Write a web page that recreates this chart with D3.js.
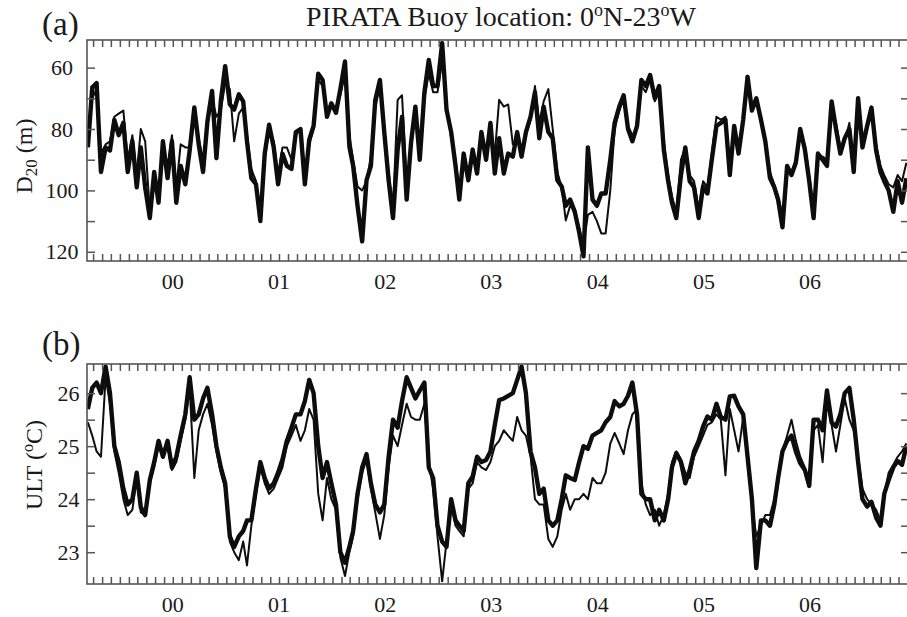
<!DOCTYPE html>
<html>
<head>
<meta charset="utf-8">
<script src="https://cdn.jsdelivr.net/npm/d3@7"></script>
<style>
  body { margin: 0; background: #fff; }
  svg { display: block; font-family: "Liberation Serif", "Times New Roman", serif; }
</style>
</head>
<body>
<div id="chart"></div>
<script>
// PIRATA buoy 0N-23W, D20 and ULT, semi-monthly samples

// D20 (m), thick and thin curves
const d20Thick = [
  86, 66.5, 65, 94, 86, 87, 77, 82, 78, 94,
  84, 99, 86, 99, 109, 94, 104, 84, 96, 84,
  104, 92, 98, 87, 73, 85, 94, 77.5, 67.6, 89.5,
  71, 59.5, 72, 73.7, 68.7, 71, 84, 96, 98, 110,
  88, 78.6, 86, 98, 88, 92, 93, 81, 80, 98,
  83.5, 79, 62, 64, 76, 71.6, 74.7, 67, 58, 85.7,
  92, 105, 116.6, 96.7, 92, 70.6, 64, 81, 96.7, 109,
  86.7, 76, 103, 84.5, 72.7, 90, 68, 57.5, 66, 66,
  52, 73.7, 81, 92, 103, 88, 96.7, 86.7, 94.5, 81,
  90, 78, 94.5, 83, 94.5, 88, 89, 81, 89, 81,
  76, 68, 83, 72.7, 81, 83, 96.7, 98.7, 105, 103,
  107, 113.6, 121.5, 86, 103, 105, 101, 101, 90, 78,
  72.7, 69, 80, 84, 79, 64, 66, 62.4, 70, 66,
  86.7, 97, 104, 109, 95, 86, 97, 99, 109, 98.7,
  101, 90, 79, 78, 77, 95, 79, 88, 77, 63,
  74, 70, 77, 84, 96, 99, 103, 112, 92, 95,
  91, 80, 86.7, 97, 109, 88, 90, 92, 71, 80,
  88, 83, 80, 94, 70, 86, 79, 73, 87, 94,
  97, 100, 107, 97, 104, 96
];
const d20Thin = [
  84, 70, 67, 88, 85, 84, 76, 75, 74, 90,
  82, 95, 80, 84, 107, 96, 101, 85, 93, 82,
  99, 85, 86, 86, 75, 83, 90, 79, 70, 76,
  74, 65, 67, 84, 75, 73, 82, 93, 97, 107,
  90, 80, 84, 95, 86, 86, 90, 82, 80, 95,
  85, 80, 64, 66, 75, 73, 73, 69, 62, 82,
  90, 98.7, 100, 97, 89, 73, 66, 80, 94, 106,
  70.5, 69, 98, 86, 74, 88, 70, 62, 68, 68,
  58, 72, 83, 90, 100, 90, 94, 88, 92, 83,
  88, 80, 88, 70.5, 72.7, 72, 85, 83, 87, 82,
  77, 66, 78, 71, 67, 80, 94, 99, 109.8, 105,
  106, 112, 118, 108, 107, 110, 114, 114, 100, 80,
  74, 70, 79, 82, 80, 66, 68, 64, 71, 68,
  84, 95, 102, 107, 90, 86, 95, 97, 106, 97,
  99, 88, 76, 77, 76, 92, 80, 86, 78, 65,
  72, 71, 76, 83, 94, 98, 102, 108, 94, 94,
  90, 82, 85, 95, 106, 90, 89, 90, 73, 78,
  86, 84, 78, 91, 72, 84, 80, 75, 85, 92,
  95, 98, 99, 95, 97, 91
];

// ULT (oC), thick and thin curves
const ultThick = [
  25.7, 26.1, 26.2, 26.0, 26.5, 26.0, 25.0, 24.7, 24.2, 23.9,
  24.0, 24.5, 23.85, 23.7, 24.36, 24.7, 25.1, 24.8, 25.1, 24.6,
  24.8, 25.2, 25.6, 26.3, 25.5, 25.6, 25.9, 26.1, 25.6, 25.0,
  24.6, 24.3, 23.3, 23.1, 23.3, 23.4, 23.6, 23.6, 24.2, 24.7,
  24.4, 24.2, 24.3, 24.5, 24.75, 25.1, 25.35, 25.6, 25.6, 25.85,
  26.25, 26.0, 25.0, 24.4, 24.7, 24.3, 23.9, 23.0, 22.8, 23.1,
  23.4, 24.1, 24.6, 24.85, 24.3, 23.9, 23.75, 23.9, 24.8, 25.5,
  25.35, 25.85, 26.3, 26.1, 25.9, 26.05, 26.2, 24.6, 24.4, 23.5,
  23.2, 23.1, 24.0, 23.6, 23.5, 23.4, 24.3, 24.43, 24.8, 24.7,
  24.74, 24.9, 25.4, 25.87, 25.9, 25.95, 26.0, 26.25, 26.5, 26.0,
  24.9, 24.6, 24.1, 24.2, 23.6, 23.5, 23.6, 24.0, 24.45, 24.4,
  24.36, 24.7, 25.0, 24.95, 25.2, 25.25, 25.3, 25.45, 25.55, 25.85,
  25.75, 25.8, 25.95, 26.2, 25.6, 24.1, 24.0, 24.0, 23.6, 23.8,
  23.6, 24.0, 24.6, 24.87, 24.7, 24.3, 24.55, 24.9, 25.1, 25.37,
  25.56, 25.5, 25.8, 25.55, 25.5, 25.94, 25.95, 25.75, 25.6, 24.8,
  24.0, 22.7, 23.6, 23.6, 23.5, 23.9, 24.4, 24.9, 25.1, 25.2,
  24.9, 24.68, 24.55, 24.25, 25.5, 25.5, 25.3, 26.05, 25.45, 25.37,
  25.6, 26.0, 26.1, 25.5, 24.7, 24.0, 23.86, 23.95, 23.65, 23.5,
  24.1, 24.36, 24.6, 24.72, 24.65, 25.0
];
const ultThin = [
  25.45, 25.2, 24.9, 24.8, 26.3, 25.8, 24.9, 24.5, 24.0, 23.7,
  23.8, 24.4, 23.75, 23.7, 24.3, 24.6, 25.0, 24.9, 25.0, 24.55,
  24.7, 25.1, 25.5, 26.1, 24.4, 25.3, 25.6, 25.8, 25.4, 24.9,
  24.5, 24.2, 23.2, 23.0, 22.85, 23.2, 22.75, 23.5, 24.1, 24.6,
  24.3, 24.1, 24.2, 24.4, 24.6, 25.0, 25.2, 25.4, 25.1, 25.3,
  25.7, 25.5, 24.1, 23.6, 24.4, 24.0, 23.8, 22.9, 22.55, 23.0,
  23.3, 24.0, 24.5, 24.75, 24.2, 23.75, 23.25, 23.7, 24.6, 25.2,
  25.0, 25.4, 25.8, 25.55, 25.5, 25.5, 25.8, 24.7, 24.2, 23.3,
  22.45, 23.2, 23.9, 23.5, 23.4, 23.3, 24.2, 24.3, 24.7, 24.6,
  24.55, 24.7, 25.0, 25.1, 25.3, 25.2, 25.1, 25.55, 25.3, 25.2,
  24.8, 24.0, 23.9, 23.9, 23.25, 23.1, 23.3, 23.8, 24.1, 23.8,
  24.0, 24.0, 24.1, 24.0, 24.4, 24.3, 24.3, 24.5, 25.05, 25.25,
  25.05, 24.85, 25.3, 25.6, 25.7, 24.3, 23.9, 23.7, 23.8, 23.5,
  23.7, 24.1, 24.7, 24.9, 24.75, 24.5, 24.4, 24.8, 25.0, 25.2,
  25.4, 25.45, 25.6, 25.5, 24.45, 25.7, 25.3, 24.9, 25.55, 24.7,
  23.9, 23.3, 23.5, 23.7, 23.7, 24.0, 24.3, 24.9, 25.2, 25.5,
  25.1, 24.8, 24.6, 24.3, 25.3, 25.4, 24.7, 25.8, 25.4, 24.9,
  25.4, 25.9, 25.5, 25.3, 24.8, 24.2, 24.0, 23.9, 23.8, 23.6,
  24.1, 24.5, 24.65, 24.8, 24.9, 25.05
];

const yearLabels = [2000, 2001, 2002, 2003, 2004, 2005, 2006];
const d20Ticks = [60, 70, 80, 90, 100, 110, 120];
const d20Labels = [60, 80, 100, 120];
const ultTicks = [23, 23.5, 24, 24.5, 25, 25.5, 26];
const ultLabels = [23, 24, 25, 26];

// sample dates: 13th and 28th of each month from Sep 1999
const dates = d3.range(d20Thick.length)
  .map(i => new Date(1999, 8 + Math.floor(i / 2), i % 2 ? 28 : 13));

const width = 907;
const height = 617;
const left = 87;
const right = 909;
const ink = "#0d0d0d";
const textColor = "#1a1a1a";
const axisColor = "#555";

const svg = d3.select("#chart").append("svg")
  .attr("width", width)
  .attr("height", height)
  .attr("viewBox", [0, 0, width, height]);

const x = d3.scaleTime()
  .domain([new Date(1999, 8, 10), new Date(2007, 5, 6)])
  .range([left, right]);

const months = d3.timeMonth.range(new Date(1999, 9, 1), new Date(2007, 5, 6));

function panel(opts) {
  const { top, bottom, y, ticks, labels, labelX, thick, thin, id } = opts;
  const g = svg.append("g");

  g.append("clipPath").attr("id", id)
    .append("rect")
    .attr("x", left).attr("y", top)
    .attr("width", right - left).attr("height", bottom - top);

  const line = d3.line()
    .x((d, i) => x(dates[i]))
    .y(d => y(d));

  const plot = g.append("g").attr("clip-path", `url(#${id})`);
  plot.append("path")
    .datum(thick)
    .attr("fill", "none")
    .attr("stroke", ink)
    .attr("stroke-width", 4.4)
    .attr("stroke-linejoin", "round")
    .attr("d", line);
  plot.append("path")
    .datum(thin)
    .attr("fill", "none")
    .attr("stroke", ink)
    .attr("stroke-width", 2)
    .attr("stroke-linejoin", "round")
    .attr("d", line);

  // monthly ticks, top and bottom, pointing inward
  g.append("g")
    .attr("transform", `translate(0,${bottom})`)
    .call(d3.axisBottom(x).tickValues(months).tickSize(-7).tickFormat(""))
    .call(a => a.select(".domain").remove());
  g.append("g")
    .attr("transform", `translate(0,${top})`)
    .call(d3.axisTop(x).tickValues(months).tickSize(-7).tickFormat(""))
    .call(a => a.select(".domain").remove());

  // y ticks left and right
  g.append("g")
    .attr("transform", `translate(${left},0)`)
    .call(d3.axisLeft(y).tickValues(ticks).tickSize(-8).tickFormat(""))
    .call(a => a.select(".domain").remove());
  g.append("g")
    .attr("transform", `translate(${right},0)`)
    .call(d3.axisRight(y).tickValues(ticks).tickSize(-8).tickFormat(""))
    .call(a => a.select(".domain").remove());

  g.selectAll(".tick line")
    .attr("stroke", axisColor)
    .attr("stroke-width", 1.5);

  g.append("rect")
    .attr("x", left).attr("y", top)
    .attr("width", right - left).attr("height", bottom - top)
    .attr("fill", "none")
    .attr("stroke", axisColor)
    .attr("stroke-width", 1.6);

  g.append("g")
    .attr("font-size", 22)
    .attr("fill", textColor)
    .attr("text-anchor", "middle")
    .selectAll("text")
    .data(labels)
    .join("text")
    .attr("x", labelX)
    .attr("y", d => y(d))
    .attr("dy", "0.35em")
    .text(d => d);

  g.append("g")
    .attr("font-size", 22)
    .attr("fill", textColor)
    .attr("text-anchor", "middle")
    .selectAll("text")
    .data(yearLabels)
    .join("text")
    .attr("x", d => x(new Date(d, 6, 1)))
    .attr("y", bottom + 28)
    .text(d => d3.timeFormat("%y")(new Date(d, 0, 1)));

  return g;
}

const yD20 = d3.scaleLinear().domain([51, 123]).range([40, 261]);
const yUlt = d3.scaleLinear().domain([22.4, 26.55]).range([584, 364]);

panel({
  id: "clip-a", top: 40, bottom: 261, y: yD20,
  ticks: d20Ticks, labels: d20Labels, labelX: 62,
  thick: d20Thick, thin: d20Thin
});
panel({
  id: "clip-b", top: 364, bottom: 584, y: yUlt,
  ticks: ultTicks, labels: ultLabels, labelX: 68.5,
  thick: ultThick, thin: ultThin
});

// title
const title = svg.append("text")
  .attr("x", 501)
  .attr("y", 26)
  .attr("text-anchor", "middle")
  .attr("font-size", 28)
  .attr("fill", textColor);
title.append("tspan").text("PIRATA Buoy location: 0");
title.append("tspan").attr("font-size", 18).attr("dy", -10).text("o");
title.append("tspan").attr("dy", 10).text("N-23");
title.append("tspan").attr("font-size", 18).attr("dy", -10).text("o");
title.append("tspan").attr("dy", 10).text("W");

// panel letters
svg.append("text").attr("x", 42).attr("y", 35)
  .attr("font-size", 33).attr("fill", textColor).text("(a)");
svg.append("text").attr("x", 42).attr("y", 355)
  .attr("font-size", 33).attr("fill", textColor).text("(b)");

// y axis titles
const yTitleA = svg.append("text")
  .attr("transform", "translate(32,156) rotate(-90)")
  .attr("text-anchor", "middle")
  .attr("font-size", 24)
  .attr("fill", textColor);
yTitleA.append("tspan").text("D");
yTitleA.append("tspan").attr("font-size", 17).attr("dy", 5).text("20");
yTitleA.append("tspan").attr("dy", -5).text(" (m)");

const yTitleB = svg.append("text")
  .attr("transform", "translate(42,465) rotate(-90)")
  .attr("text-anchor", "middle")
  .attr("font-size", 24)
  .attr("fill", textColor);
yTitleB.append("tspan").text("ULT (");
yTitleB.append("tspan").attr("font-size", 16).attr("dy", -9).text("o");
yTitleB.append("tspan").attr("dy", 9).text("C)");
</script>
</body>
</html>
